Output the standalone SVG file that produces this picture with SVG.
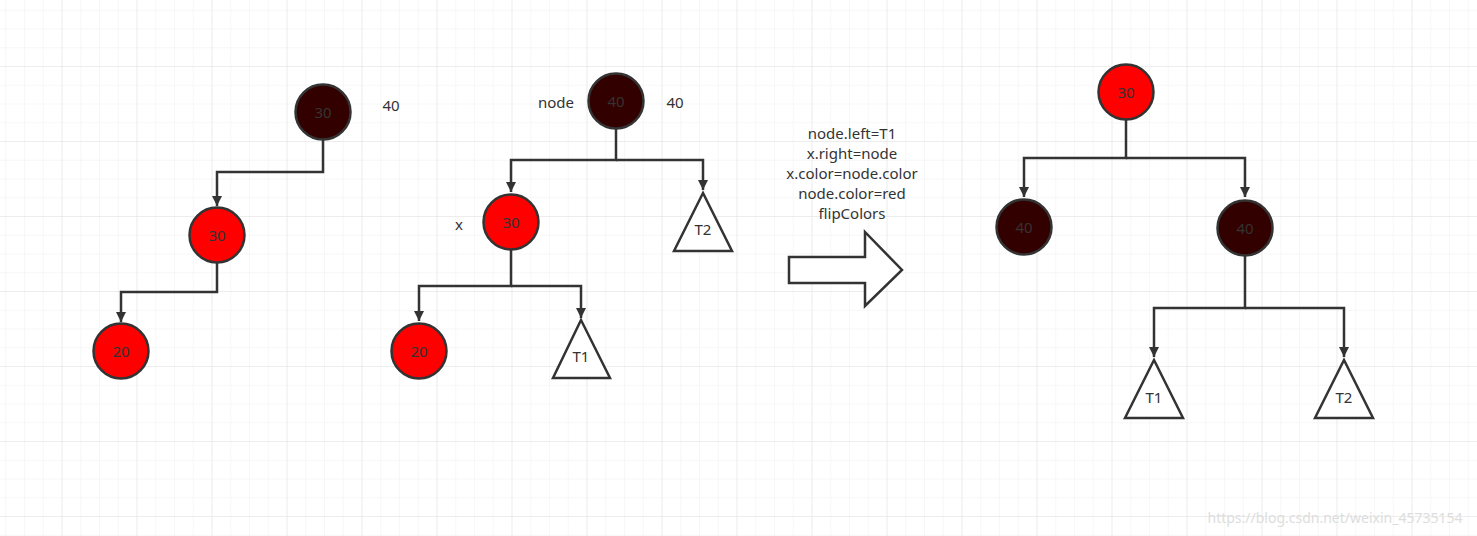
<svg xmlns="http://www.w3.org/2000/svg" width="1477" height="536" viewBox="0 0 1477 536">
<defs>
<pattern id="minor" x="-12.5" y="-8" width="18.75" height="18.75" patternUnits="userSpaceOnUse"><path d="M18.75 0V18.75H0" fill="none" stroke="#f0f0f0" stroke-width="1"/></pattern>
<pattern id="major" x="-12.5" y="-8" width="75" height="75" patternUnits="userSpaceOnUse"><path d="M75 0V75H0" fill="none" stroke="#e2e2e2" stroke-width="1"/></pattern>
<marker id="ah" viewBox="0 0 10 10" refX="10" refY="5" markerWidth="4" markerHeight="4" orient="auto" markerUnits="strokeWidth"><path d="M0 0L10 5L0 10z" fill="#333"/></marker>
</defs>
<style>
.b{fill:#330000;stroke:#333;stroke-width:2.5}
.r{fill:#ff0000;stroke:#333;stroke-width:2.5}
.t{fill:#fff;stroke:#333;stroke-width:2.5}
text{font-family:"Noto Sans","Open Sans",sans-serif;font-size:15px;fill:#333;text-anchor:middle;dominant-baseline:central}
.c path{fill:none;stroke:#333;stroke-width:2.5;marker-end:url(#ah)}
</style>
<rect width="1477" height="536" fill="#fff"/>
<rect width="1477" height="536" fill="url(#minor)"/>
<rect width="1477" height="536" fill="url(#major)"/>
<g class="c">
<path d="M323 140V172H217V206"/>
<path d="M217 263V292H121V322"/>
<path d="M616 128V160H511V192"/>
<path d="M616 160H703V190"/>
<path d="M511 249V286H419V321"/>
<path d="M511 286H581V318"/>
<path d="M1126 120V158H1024V197"/>
<path d="M1126 158H1245V197"/>
<path d="M1245 256V308H1154V357"/>
<path d="M1245 308H1344V357"/>
</g>
<g id="n1"><circle class="b" cx="323" cy="112" r="27.5"/><text x="323" y="112">30</text></g>
<text x="391" y="105">40</text>
<g id="n2"><circle class="r" cx="217" cy="235" r="27.5"/><text x="217" y="235">30</text></g>
<g id="n3"><circle class="r" cx="121" cy="351" r="27.5"/><text x="121" y="351">20</text></g>
<text x="556" y="102">node</text>
<g id="n4"><circle class="b" cx="616" cy="101" r="27.5"/><text x="616" y="101">40</text></g>
<text x="675" y="102">40</text>
<text x="459" y="224">x</text>
<g id="n5"><circle class="r" cx="511" cy="222" r="27.5"/><text x="511" y="222">30</text></g>
<g id="n6"><circle class="r" cx="419" cy="351" r="27.5"/><text x="419" y="351">20</text></g>
<g id="t2a"><polygon class="t" points="703,193 674,251 732,251"/><text x="703" y="229">T2</text></g>
<g id="t1a"><polygon class="t" points="581,320 553,378 610,378"/><text x="581" y="356">T1</text></g>
<text x="852" y="133">node.left=T1</text>
<text x="852" y="153">x.right=node</text>
<text x="852" y="173">x.color=node.color</text>
<text x="852" y="193">node.color=red</text>
<text x="852" y="213">flipColors</text>
<polygon class="t" points="789,257 865,257 865,232 902,270 865,306 865,283 789,283"/>
<g id="n7"><circle class="r" cx="1126" cy="92" r="27.5"/><text x="1126" y="92">30</text></g>
<g id="n8"><circle class="b" cx="1024" cy="227" r="27.5"/><text x="1024" y="227">40</text></g>
<g id="n9"><circle class="b" cx="1245" cy="228" r="27.5"/><text x="1245" y="228">40</text></g>
<g id="t1b"><polygon class="t" points="1154,360 1125,418 1183,418"/><text x="1154" y="397">T1</text></g>
<g id="t2b"><polygon class="t" points="1344,360 1315,418 1373,418"/><text x="1344" y="397">T2</text></g>
<text x="1335" y="517" style="fill:#ddd;font-size:14px">https://blog.csdn.net/weixin_45735154</text>
</svg>
